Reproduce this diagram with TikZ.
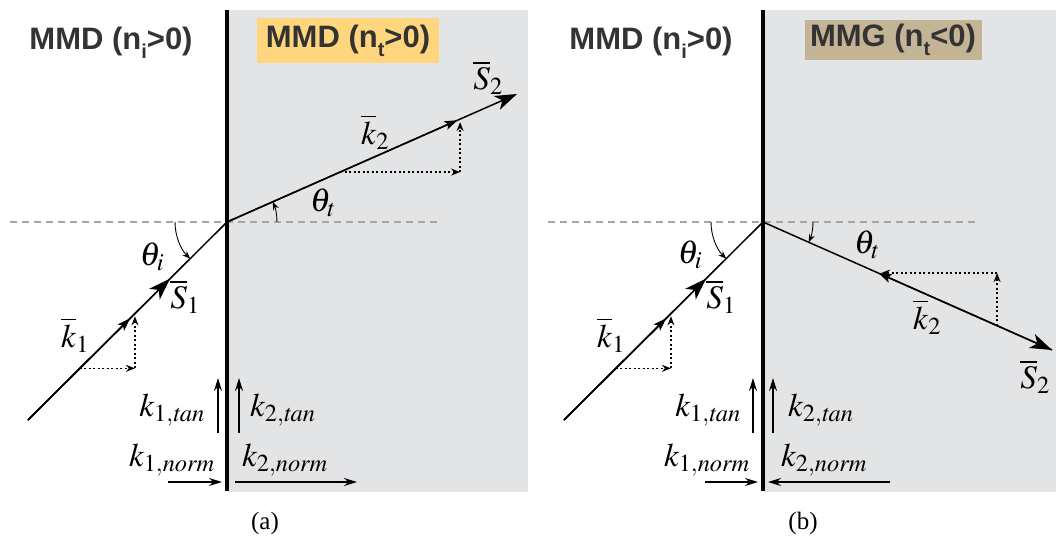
\documentclass[tikz,border=0pt]{standalone}
\usepackage{mathptmx}
\usepackage{fontspec}
\setmainfont{Liberation Serif}
\newfontfamily\headfont{Liberation Sans}
\usetikzlibrary{arrows.meta,calc}
\definecolor{panelgray}{RGB}{227,228,230}
\definecolor{boxyellow}{RGB}{255,214,125}
\definecolor{boxtan}{RGB}{196,180,150}
\definecolor{labelgray}{RGB}{51,51,51}
\newcommand{\lowsub}[1]{\raisebox{-0.3em}{\fontsize{20}{20}\selectfont #1}}
\tikzset{
  ray/.style={line width=1.5pt},
  bigtip/.style={-{Stealth[length=22pt,width=15pt,inset=6pt]}},
  smalltip/.style={-{Stealth[length=13pt,width=9pt,inset=3pt]}},
  compo/.style={line width=1.4pt, dash pattern=on 2pt off 2.5pt, -{Stealth[length=9pt,width=7pt]}},
  axisline/.style={gray!70, line width=1.2pt, dash pattern=on 7pt off 5pt},
  wall/.style={line width=3.5pt},
  anglearc/.style={line width=0.9pt, -{Stealth[length=8pt,width=6pt]}},
  kcomp/.style={line width=1.8pt, -{Stealth[length=13pt,width=8pt]}},
  lbl/.style={inner sep=0pt, font=\fontsize{33}{36}\selectfont},
  mediumlbl/.style={inner sep=0pt, text=labelgray, font=\headfont\bfseries\fontsize{31}{36}\selectfont},
  subcap/.style={font=\fontsize{25}{30}\selectfont}
}
\begin{document}
\begin{tikzpicture}[x=1pt, y=1pt]
\useasboundingbox (0,0) rectangle (1056,535);
% ---------- panel (a) ----------
\fill[panelgray] (227,43) rectangle (528,525);
\coordinate (Oa) at (227,313);
\coordinate (Ia) at (28,115);
\coordinate (Ta) at (517,441);
\draw[axisline] (10,313) -- (438,313);
\draw[wall] (227,44) -- (227,525);
% incident ray with k1 and S1
\draw[ray] (Ia) -- (Oa);
\draw[ray, smalltip] (Ia) -- ($(Ia)!0.513!(Oa)$);
\draw[ray, bigtip] (Ia) -- ($(Ia)!0.714!(Oa)$);
\coordinate (Pa) at ($(Ia)!0.261!(Oa)$);
\draw[compo] (Pa) -- ++(55,0) coordinate (Ca);
\draw[compo] (Ca) -- ++(0,52);
% refracted ray
\draw[ray, bigtip] (Oa) -- (Ta);
\draw[ray, smalltip] (Oa) -- ($(Oa)!0.795!(Ta)$);
\coordinate (Qa) at ($(Oa)!0.39!(Ta)$);
\draw[compo] (Qa) -- ++(120,0) coordinate (Da);
\draw[compo] (Da) -- ++(0,50);
% angles
\draw[anglearc] ($(Oa)+(180:52)$) arc[start angle=180, end angle=225, radius=52];
\draw[anglearc] ($(Oa)+(0:50)$) arc[start angle=0, end angle=23.8, radius=50];
% tangential and normal components
\draw[kcomp] (218,102) -- (218,157);
\draw[kcomp] (239,102) -- (239,157);
\draw[kcomp] (168,53) -- (222,53);
\draw[kcomp] (235,53) -- (357,53);
% labels
\node[mediumlbl] (nia) at (111,492) {MMD (n\lowsub{i}>0)};
\node[mediumlbl, fill=boxyellow, minimum width=182pt, minimum height=45pt] (nta) at (348,494) {MMD (n\lowsub{t}>0)};
\node[lbl] (thia) at (152,278) {$\theta_i$};
\node[lbl] (k1a) at (75,200) {$\overline{k}_1$};
\node[lbl] (s1a) at (185,238) {$\overline{S}_1$};
\node[lbl] (thta) at (323,332) {$\theta_t$};
\node[lbl] (k2a) at (375,403) {$\overline{k}_2$};
\node[lbl] (s2a) at (488,457) {$\overline{S}_2$};
\node[lbl, anchor=east] (k1ta) at (205,125) {$k_{1,\mathit{tan}}$};
\node[lbl, anchor=west] (k2ta) at (250,125) {$k_{2,\mathit{tan}}$};
\node[lbl, anchor=east] (k1na) at (215,75) {$k_{1,\mathit{norm}}$};
\node[lbl, anchor=west] (k2na) at (242,75) {$k_{2,\mathit{norm}}$};
\node[subcap] (capa) at (265,12) {(a)};
% ---------- panel (b) ----------
\fill[panelgray] (763,43) rectangle (1056,525);
\coordinate (Ob) at (763,313);
\coordinate (Ib) at (564,115);
\coordinate (Tb) at (1052,185);
\draw[axisline] (548,313) -- (977,313);
\draw[wall] (763,44) -- (763,525);
% incident ray with k1 and S1
\draw[ray] (Ib) -- (Ob);
\draw[ray, smalltip] (Ib) -- ($(Ib)!0.513!(Ob)$);
\draw[ray, bigtip] (Ib) -- ($(Ib)!0.714!(Ob)$);
\coordinate (Pb) at ($(Ib)!0.261!(Ob)$);
\draw[compo] (Pb) -- ++(55,0) coordinate (Cb);
\draw[compo] (Cb) -- ++(0,52);
% refracted ray, k2 backwards
\draw[ray, bigtip] (Ob) -- (Tb);
\draw[ray, smalltip] (Tb) -- ($(Ob)!0.4!(Tb)$);
\coordinate (Qb) at ($(Ob)!0.81!(Tb)$);
\draw[compo] (Qb) -- ++(0,52.6) coordinate (Db);
\draw[compo] (Db) -- ++(-116,0);
% angles
\draw[anglearc] ($(Ob)+(180:52)$) arc[start angle=180, end angle=225, radius=52];
\draw[anglearc] ($(Ob)+(0:50)$) arc[start angle=0, end angle=-23.9, radius=50];
% tangential and normal components
\draw[kcomp] (753,102) -- (753,157);
\draw[kcomp] (773,102) -- (773,157);
\draw[kcomp] (705,53) -- (758,53);
\draw[kcomp] (890,53) -- (768,53);
% labels
\node[mediumlbl] (nib) at (651,492) {MMD (n\lowsub{i}>0)};
\node[mediumlbl, fill=boxtan, minimum width=177pt, minimum height=40pt] (ntb) at (893,495) {MMG (n\lowsub{t}<0)};
\node[lbl] (thib) at (690,280) {$\theta_i$};
\node[lbl] (k1b) at (611,200) {$\overline{k}_1$};
\node[lbl] (s1b) at (721,238) {$\overline{S}_1$};
\node[lbl] (thtb) at (867,290) {$\theta_t$};
\node[lbl] (k2b) at (927,218) {$\overline{k}_2$};
\node[lbl] (s2b) at (1035,158) {$\overline{S}_2$};
\node[lbl, anchor=east] (k1tb) at (741,125) {$k_{1,\mathit{tan}}$};
\node[lbl, anchor=west] (k2tb) at (788,125) {$k_{2,\mathit{tan}}$};
\node[lbl, anchor=east] (k1nb) at (750,75) {$k_{1,\mathit{norm}}$};
\node[lbl, anchor=west] (k2nb) at (781,75) {$k_{2,\mathit{norm}}$};
\node[subcap] (capb) at (803,12) {(b)};
\end{tikzpicture}
\end{document}
